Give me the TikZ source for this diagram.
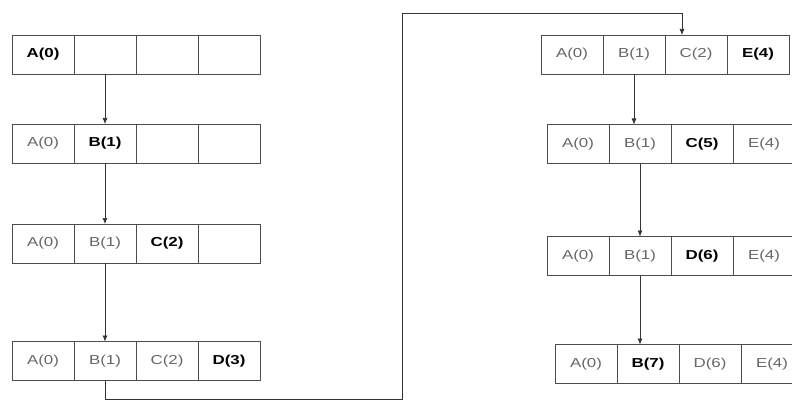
\documentclass[tikz,border=0pt]{standalone}
\usepackage{fontspec}
\usepackage{tikz}
\usetikzlibrary{arrows.meta}
\newfontfamily\cellfont[FakeStretch=1.3]{Liberation Sans}

\begin{document}
\begin{tikzpicture}[x=1pt,y=-1pt,>={Latex[length=6pt,width=5pt]}]
			\tikzstyle{cell}=[draw=black!70, line width=0.8pt, minimum width=62pt, minimum height=39pt, inner sep=0pt, outer sep=0pt, font=\cellfont\fontsize{13}{15}\selectfont, text=black!60]
			\tikzstyle{new}=[text=black, font=\cellfont\fontsize{13}{15}\selectfont\bfseries]
			\tikzstyle{link}=[draw=black!80, line width=0.7pt, ->]

			\useasboundingbox (0,0) rectangle (792,401);

			\node[cell,new] (l1a) at (43,54.5) {A(0)};
			\node[cell] (l1b) at (105,54.5) {};
			\node[cell] (l1c) at (167,54.5) {};
			\node[cell] (l1d) at (229,54.5) {};

			\node[cell] (l2a) at (43,143.5) {A(0)};
			\node[cell,new] (l2b) at (105,143.5) {B(1)};
			\node[cell] (l2c) at (167,143.5) {};
			\node[cell] (l2d) at (229,143.5) {};

			\node[cell] (l3a) at (43,243.5) {A(0)};
			\node[cell] (l3b) at (105,243.5) {B(1)};
			\node[cell,new] (l3c) at (167,243.5) {C(2)};
			\node[cell] (l3d) at (229,243.5) {};

			\node[cell] (l4a) at (43,361) {A(0)};
			\node[cell] (l4b) at (105,361) {B(1)};
			\node[cell] (l4c) at (167,361) {C(2)};
			\node[cell,new] (l4d) at (229,361) {D(3)};

			\node[cell] (r1a) at (572,54.5) {A(0)};
			\node[cell] (r1b) at (634,54.5) {B(1)};
			\node[cell] (r1c) at (696,54.5) {C(2)};
			\node[cell,new] (r1d) at (758,54.5) {E(4)};

			\node[cell] (r2a) at (578,144) {A(0)};
			\node[cell] (r2b) at (640,144) {B(1)};
			\node[cell,new] (r2c) at (702,144) {C(5)};
			\node[cell] (r2d) at (764,144) {E(4)};

			\node[cell] (r3a) at (578,256) {A(0)};
			\node[cell] (r3b) at (640,256) {B(1)};
			\node[cell,new] (r3c) at (702,256) {D(6)};
			\node[cell] (r3d) at (764,256) {E(4)};

			\node[cell] (r4a) at (586,364) {A(0)};
			\node[cell,new] (r4b) at (648,364) {B(7)};
			\node[cell] (r4c) at (710,364) {D(6)};
			\node[cell] (r4d) at (772,364) {E(4)};

			\coordinate (low) at (402,399);
			\coordinate (high) at (402,13);

			\draw[link] (l1b.south) -- (l2b.north);
			\draw[link] (l2b.south) -- (l3b.north);
			\draw[link] (l3b.south) -- (l4b.north);
			\draw[link] (l4b.south) |- (low) -- (high) -| ([xshift=-14pt]r1c.north);
			\draw[link] (r1b.south) -- (r1b.south |- r2b.north);
			\draw[link] (r2b.south) -- (r3b.north);
			\draw[link] (r3b.south) -- (r3b.south |- r4b.north);
\end{tikzpicture}
\end{document}
